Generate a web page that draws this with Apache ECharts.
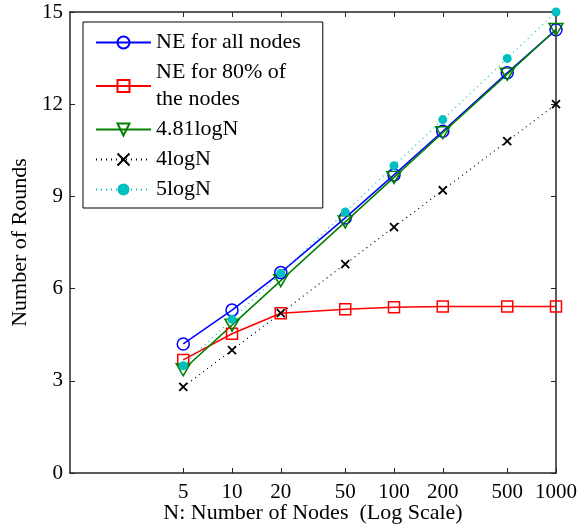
<!DOCTYPE html>
<html>
<head>
<meta charset="utf-8">
<script src="https://cdn.jsdelivr.net/npm/echarts@6/dist/echarts.min.js"></script>
<style>
html,body{margin:0;padding:0;background:#fff;}
#chart{width:585px;height:527px;}
</style>
</head>
<body>
<div id="chart"></div>
<script>
const nodes = [5, 10, 20, 50, 100, 200, 500, 1000];
const neAll = [4.2, 5.3, 6.52, 8.3, 9.7, 11.12, 13.02, 14.42];
const ne80 = [3.68, 4.53, 5.2, 5.33, 5.39, 5.42, 5.42, 5.42];
const fit481 = [3.36, 4.81, 6.26, 8.17, 9.62, 11.07, 12.98, 14.43];
const log4 = [2.8, 4.0, 5.2, 6.8, 8.0, 9.2, 10.8, 12.0];
const log5 = [3.49, 5.0, 6.5, 8.49, 10.0, 11.5, 13.49, 15.0];
const xTicks = [5, 10, 20, 50, 100, 200, 500, 1000];
const yTicks = [0, 3, 6, 9, 12, 15];

const FONT = 'Liberation Serif';
const FS = 21;
const FS_TXT = 22;
const AX = '#262626';
const pairs = v => nodes.map((n, i) => [n, v[i]]);

const chart = echarts.init(document.getElementById('chart'), null, {renderer: 'canvas'});

const xBase = {
  type: 'log', logBase: 10, min: 1, max: 1000,
  axisLine: {show: true, onZero: false, lineStyle: {color: AX, width: 1.5}},
  axisTick: {show: true, inside: true, length: 5, customValues: xTicks, lineStyle: {color: AX, width: 1}},
  minorTick: {show: false},
  splitLine: {show: false},
  minorSplitLine: {show: false}
};
const yBase = {
  type: 'value', min: 0, max: 15, interval: 3,
  axisLine: {show: true, onZero: false, lineStyle: {color: AX, width: 1.5}},
  axisTick: {show: true, inside: true, length: 5, lineStyle: {color: AX, width: 1}},
  splitLine: {show: false}
};

const option = {
  animation: false,
  backgroundColor: '#fff',
  textStyle: {fontFamily: FONT},
  grid: {left: 70, right: 29, top: 12, bottom: 54, containLabel: false, outerBoundsMode: 'none'},
  xAxis: [
    Object.assign({}, xBase, {
      position: 'bottom',
      name: 'N: Number of Nodes  (Log Scale)',
      nameLocation: 'middle', nameGap: 29, nameMoveOverlap: false,
      nameTextStyle: {fontFamily: FONT, fontSize: FS_TXT, color: '#000'},
      axisLabel: {show: true, customValues: xTicks, fontFamily: FONT, fontSize: FS, color: '#000', margin: 9,
        formatter: v => String(Math.round(v))}
    }),
    Object.assign({}, xBase, {position: 'top', axisLabel: {show: false}})
  ],
  yAxis: [
    Object.assign({}, yBase, {
      position: 'left',
      name: 'Number of Rounds',
      nameLocation: 'middle', nameGap: 36,
      nameTextStyle: {fontFamily: FONT, fontSize: FS_TXT, color: '#000'},
      axisLabel: {show: true, fontFamily: FONT, fontSize: FS, color: '#000', margin: 7}
    }),
    Object.assign({}, yBase, {position: 'right', axisLabel: {show: false}})
  ],
  legend: {
    orient: 'vertical',
    left: 83, top: 22,
    padding: [7, 22, 5, 12],
    itemGap: 3,
    itemWidth: 55, itemHeight: 15,
    borderColor: '#000', borderWidth: 1, backgroundColor: '#fff',
    textStyle: {fontFamily: FONT, fontSize: FS_TXT, color: '#000', lineHeight: 27},
    data: ['NE for all nodes', 'NE for 80% of\nthe nodes', '4.81logN', '4logN', '5logN']
  },
  series: [
    {
      name: 'NE for all nodes', type: 'line', data: pairs(neAll),
      symbol: 'circle', symbolSize: 12,
      lineStyle: {color: '#0000ff', width: 1.5},
      itemStyle: {color: 'rgba(0,0,0,0)', borderColor: '#0000ff', borderWidth: 1.5}
    },
    {
      name: 'NE for 80% of\nthe nodes', type: 'line', data: pairs(ne80),
      symbol: 'rect', symbolSize: 11,
      lineStyle: {color: '#ff0000', width: 1.5},
      itemStyle: {color: 'rgba(0,0,0,0)', borderColor: '#ff0000', borderWidth: 1.5}
    },
    {
      name: '4.81logN', type: 'line', data: pairs(fit481),
      symbol: 'path://M0,0L20,0L10,17Z', symbolSize: [14, 12],
      lineStyle: {color: '#008000', width: 1.5},
      itemStyle: {color: 'rgba(0,0,0,0)', borderColor: '#008000', borderWidth: 1.5}
    },
    {
      name: '4logN', type: 'line', data: pairs(log4),
      symbol: 'path://M0,0L10,10M10,0L0,10', symbolSize: 8,
      lineStyle: {color: '#000', width: 1.2, type: [1, 4]},
      itemStyle: {color: '#000', borderColor: '#000', borderWidth: 1.8}
    },
    {
      name: '5logN', type: 'line', data: pairs(log5),
      symbol: 'circle', symbolSize: 9,
      lineStyle: {color: '#00bfbf', width: 1.2, type: [1, 4]},
      itemStyle: {color: '#00bfbf', borderWidth: 0}
    }
  ]
};
chart.setOption(option);
</script>
</body>
</html>
